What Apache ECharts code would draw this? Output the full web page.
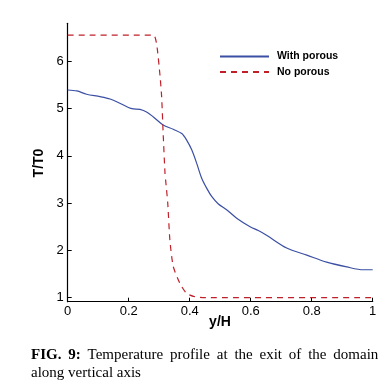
<!DOCTYPE html>
<html><head><meta charset="utf-8">
<script src="https://cdn.jsdelivr.net/npm/echarts@6/dist/echarts.min.js"></script>
<style>html,body{margin:0;padding:0;background:#fff}#c{width:387px;height:389px}</style>
</head><body><div id="c"></div>
<script>
const porousX = [0, 0.03, 0.062, 0.106, 0.139, 0.171, 0.199, 0.215, 0.237, 0.26, 0.281, 0.313, 0.346, 0.374, 0.39, 0.407, 0.423, 0.439, 0.456, 0.472, 0.494, 0.521, 0.554, 0.598, 0.625, 0.652, 0.718, 0.784, 0.849, 0.915, 0.969, 1.0];
const porousY = [5.39, 5.37, 5.30, 5.25, 5.20, 5.11, 5.02, 4.99, 4.98, 4.92, 4.82, 4.65, 4.56, 4.47, 4.33, 4.12, 3.84, 3.53, 3.31, 3.14, 2.98, 2.86, 2.68, 2.50, 2.42, 2.32, 2.05, 1.90, 1.75, 1.65, 1.59, 1.59];
const noPorousX = [0, 0.281, 0.292, 0.303, 0.308, 0.313, 0.319, 0.321, 0.328, 0.335, 0.346, 0.368, 0.39, 0.417, 0.45, 1.0];
const noPorousY = [6.55, 6.55, 6.34, 5.67, 5.25, 4.47, 3.63, 3.49, 3.0, 2.22, 1.66, 1.30, 1.09, 1.02, 1.0, 1.0];
const xTicks = [0, 0.2, 0.4, 0.6, 0.8, 1];
const yTicks = [1, 2, 3, 4, 5, 6];
const seriesNames = ['With porous', 'No porous'];
const captionLine1 = [['FIG.', true], ['9:', true], ['Temperature', false], ['profile', false], ['at', false], ['the', false], ['exit', false], ['of', false], ['the', false], ['domain', false]];
const captionLine2 = 'along vertical axis';

const serif = '"Liberation Serif", "Times New Roman", serif';
const capSize = 15;
const ctx = document.createElement('canvas').getContext('2d');
const widths = captionLine1.map(([w, b]) => { ctx.font = (b ? 'bold ' : '') + capSize + 'px ' + serif; return ctx.measureText(w).width; });
const capLeft = 31, capRight = 378.3;
const gap = (capRight - capLeft - widths.reduce((a, b) => a + b, 0)) / (captionLine1.length - 1);
const captionGraphics = [];
let cx = capLeft;
captionLine1.forEach(([w, b], i) => {
  captionGraphics.push({type: 'text', style: {text: w, x: cx, y: 355.5, verticalAlign: 'middle', fontFamily: serif, fontSize: capSize, fontWeight: b ? 'bold' : 'normal', fill: '#000'}});
  cx += widths[i] + gap;
});
captionGraphics.push({type: 'text', style: {text: captionLine2, x: capLeft, y: 373, verticalAlign: 'middle', fontFamily: serif, fontSize: capSize, fill: '#000'}});

const chart = echarts.init(document.getElementById('c'), null, {renderer: 'canvas'});
const pair = (xs, ys) => xs.map((x, i) => [x, ys[i]]);
chart.setOption({
  animation: false,
  backgroundColor: '#fff',
  grid: {left: 67.7, right: 14.3, top: 23.3, bottom: 87.3, containLabel: false},
  legend: {
    orient: 'vertical', left: 214, top: 46, itemWidth: 49, itemHeight: 12, itemGap: 4.6,
    itemStyle: {opacity: 0, borderWidth: 0},
    textStyle: {fontFamily: 'Liberation Sans', fontWeight: 'bold', fontSize: 10.5, color: '#000', padding: [0, 0, 0, 3]},
    data: seriesNames
  },
  xAxis: {
    type: 'value', min: 0, max: 1, interval: 0.2,
    axisLine: {onZero: false, lineStyle: {color: '#000', width: 1.2}},
    axisTick: {inside: true, length: 4, lineStyle: {color: '#000'}, customValues: xTicks},
    axisLabel: {color: '#000', fontFamily: 'Liberation Sans', fontSize: 13, margin: 3, customValues: xTicks,
      formatter: v => String(v)},
    splitLine: {show: false}
  },
  yAxis: {
    type: 'value', min: 0.915, max: 6.8,
    axisLine: {show: true, onZero: false, lineStyle: {color: '#000', width: 1.2}},
    axisTick: {show: true, inside: true, length: 4, lineStyle: {color: '#000'}, customValues: yTicks},
    axisLabel: {color: '#000', fontFamily: 'Liberation Sans', fontSize: 13, margin: 4, customValues: yTicks},
    splitLine: {show: false}
  },
  graphic: [
    {type: 'text', x: 39, y: 163, rotation: Math.PI / 2, style: {text: 'T/T0', x: 0, y: 0, fontFamily: 'Liberation Sans', fontWeight: 'bold', fontSize: 14, fill: '#000', align: 'center', verticalAlign: 'middle'}},
    {type: 'text', style: {text: 'y/H', x: 220, y: 322, fontFamily: 'Liberation Sans', fontWeight: 'bold', fontSize: 14, fill: '#000', align: 'center', verticalAlign: 'middle'}}
  ].concat(captionGraphics),
  series: [
    {name: seriesNames[0], type: 'line', symbol: 'none', smooth: 0.3, data: pair(porousX, porousY),
      lineStyle: {color: '#3b4fa3', width: 1.2}, itemStyle: {color: '#3b4fa3'}},
    {name: seriesNames[1], type: 'line', symbol: 'none', smooth: 0.2, data: pair(noPorousX, noPorousY),
      lineStyle: {color: '#c0202a', width: 1.2, type: [6, 5]}, itemStyle: {color: '#c0202a'}}
  ]
});
</script></body></html>
